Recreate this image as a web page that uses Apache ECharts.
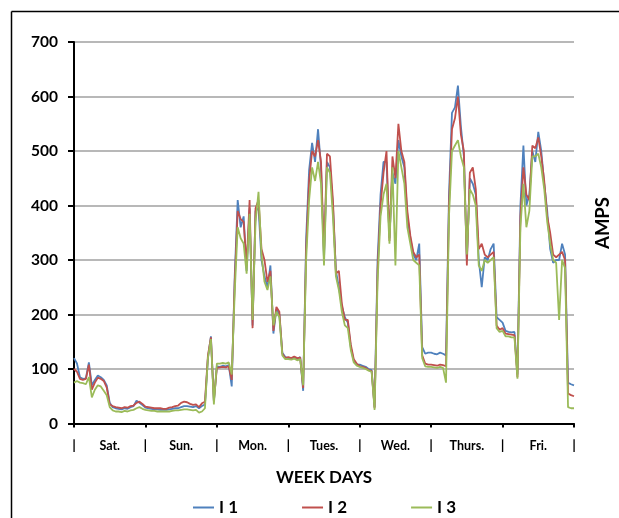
<!DOCTYPE html>
<html>
<head>
<meta charset="utf-8">
<script src="https://cdn.jsdelivr.net/npm/echarts@6/dist/echarts.min.js"></script>
<style>
html,body{margin:0;padding:0;background:#fff;}
#chart{width:619px;height:518px;}
</style>
</head>
<body>
<div id="chart"></div>
<script>
// Categories (week days) and hourly readings (hour 0..168)
const days = ['Sat.', 'Sun.', 'Mon.', 'Tues.', 'Wed.', 'Thurs.', 'Fri.'];
const seriesNames = ['I 1', 'I 2', 'I 3'];
const yTicks = [0, 100, 200, 300, 400, 500, 600, 700];

const I1 = [
  // Sat
  120,110,85,82,83,112,70,80,88,85,80,70,38,30,28,27,26,28,27,30,32,42,38,34,
  // Sun
  29,28,27,26,26,25,25,25,26,27,28,28,30,32,32,31,30,32,28,32,35,120,160,40,
  // Mon
  105,104,106,105,107,68,270,410,360,380,280,395,180,390,395,300,270,250,290,165,210,200,130,122,
  // Tues
  120,118,121,118,122,60,340,465,515,480,540,470,300,480,470,400,280,250,215,195,185,140,115,108,
  // Wed
  108,106,104,100,98,30,300,420,480,480,340,460,440,520,490,470,380,340,310,300,330,140,128,130,
  // Thurs
  130,128,127,130,128,125,420,570,580,620,545,490,300,450,440,420,300,250,305,300,320,330,195,190,
  // Fri
  185,170,168,167,168,90,400,510,400,420,500,480,535,500,440,390,320,295,300,300,330,310,75,72,70
];
const I2 = [
  100,95,82,80,82,108,62,75,84,82,78,66,35,32,30,29,28,30,29,32,33,38,40,36,
  31,30,29,28,28,28,27,27,29,30,32,33,38,40,39,36,34,35,30,37,40,125,158,42,
  102,103,104,103,105,80,260,390,375,370,290,410,175,395,410,320,300,260,280,170,214,205,128,120,
  122,120,123,120,121,65,320,445,500,490,520,480,310,495,490,410,275,280,220,190,190,145,118,110,
  105,104,102,98,96,28,280,400,460,500,335,490,450,550,500,480,390,345,315,305,310,125,110,108,
  108,107,106,108,107,105,400,540,560,600,530,500,290,460,470,430,320,330,310,305,310,315,180,172,
  175,165,164,163,162,85,380,470,420,410,510,505,525,490,445,380,350,310,305,310,315,300,55,52,50
];
const I3 = [
  75,78,75,74,72,85,48,62,70,68,60,52,30,24,22,22,21,23,22,24,25,28,30,27,
  25,24,23,23,22,22,22,22,22,23,24,24,25,26,26,25,24,25,20,22,28,120,155,35,
  110,110,111,110,112,90,240,360,340,330,275,385,190,370,425,310,260,245,270,180,205,195,125,118,
  118,117,119,116,118,70,300,410,470,445,480,440,290,470,460,380,270,245,205,180,175,135,112,106,
  104,102,100,97,95,25,260,380,420,440,330,470,290,500,470,440,360,330,300,295,290,120,105,104,
  104,103,102,104,102,75,380,500,510,520,490,470,310,430,420,400,290,280,300,295,300,305,175,168,
  170,160,160,158,158,82,360,440,360,390,490,490,495,470,430,370,330,300,295,190,300,285,30,28,28
];

function toPairs(arr) { return arr.map((v, i) => [i, v]); }

const FONT = 'Lato';
const chart = echarts.init(document.getElementById('chart'), null, {renderer: 'canvas'});
const colors = ['#4F81BD', '#C0504D', '#9BBB59'];

const option = {
  animation: false,
  backgroundColor: '#ffffff',
  textStyle: {fontFamily: FONT},
  color: colors,
  grid: {left: 74, top: 42, right: 45, bottom: 94.5, containLabel: false},
  xAxis: [
    {
      type: 'value', min: 0, max: 168, interval: 24,
      position: 'bottom', offset: 0,
      axisLine: {show: true, onZero: false, lineStyle: {color: '#000', width: 2}},
      axisTick: {show: true, length: 4, lineStyle: {color: '#000', width: 2}},
      splitLine: {show: false},
      axisLabel: {show: true, formatter: () => '|', margin: 15, color: '#000',
                  fontFamily: FONT, fontWeight: 'bold', fontSize: 14, showMinLabel: true, showMaxLabel: true},
      name: 'WEEK DAYS', nameLocation: 'middle', nameGap: 46,
      nameTextStyle: {fontFamily: FONT, fontWeight: 'bold', fontSize: 17, color: '#000'}
    },
    {
      type: 'category', data: days, boundaryGap: true,
      position: 'bottom', offset: 0,
      axisLine: {show: false}, axisTick: {show: false}, splitLine: {show: false},
      axisLabel: {show: true, interval: 0, margin: 16, color: '#000',
                  fontFamily: FONT, fontWeight: 'bold', fontSize: 12.5}
    }
  ],
  yAxis: {
    type: 'value', min: yTicks[0], max: yTicks[yTicks.length - 1], interval: 100,
    axisLine: {show: true, lineStyle: {color: '#000', width: 2}},
    axisTick: {show: true, length: 6, lineStyle: {color: '#000', width: 2}},
    splitLine: {show: true, lineStyle: {color: '#a0a0a0', width: 1.5}},
    axisLabel: {margin: 16, color: '#000', fontFamily: FONT, fontWeight: 'bold', fontSize: 15.5}
  },
  legend: {
    show: true, top: 494, left: 188,
    icon: 'rect', itemWidth: 21, itemHeight: 2, itemGap: 64,
    textStyle: {fontFamily: FONT, fontWeight: 'bold', fontSize: 17, color: '#000'},
    data: seriesNames
  },
  series: [
    {name: seriesNames[0], type: 'line', xAxisIndex: 0, data: toPairs(I1), showSymbol: false, symbol: 'none',
     lineStyle: {width: 1.8, color: colors[0]}, z: 2},
    {name: seriesNames[1], type: 'line', xAxisIndex: 0, data: toPairs(I2), showSymbol: false, symbol: 'none',
     lineStyle: {width: 1.8, color: colors[1]}, z: 3},
    {name: seriesNames[2], type: 'line', xAxisIndex: 0, data: toPairs(I3), showSymbol: false, symbol: 'none',
     lineStyle: {width: 1.8, color: colors[2]}, z: 4}
  ],
  graphic: [
    {type: 'line', shape: {x1: 11.5, y1: 11.5, x2: 619, y2: 11.5}, style: {stroke: '#000', lineWidth: 1.5}, silent: true},
    {type: 'line', shape: {x1: 11.5, y1: 11.5, x2: 11.5, y2: 518}, style: {stroke: '#000', lineWidth: 1.5}, silent: true},
    {type: 'text', x: 603.5, y: 223, rotation: Math.PI / 2,
     style: {text: 'AMPS', fontFamily: FONT, fontWeight: 'bold', fontSize: 18.5, fill: '#000',
             textAlign: 'center', textVerticalAlign: 'middle'}, silent: true}
  ]
};
chart.setOption(option);
</script>
</body>
</html>
